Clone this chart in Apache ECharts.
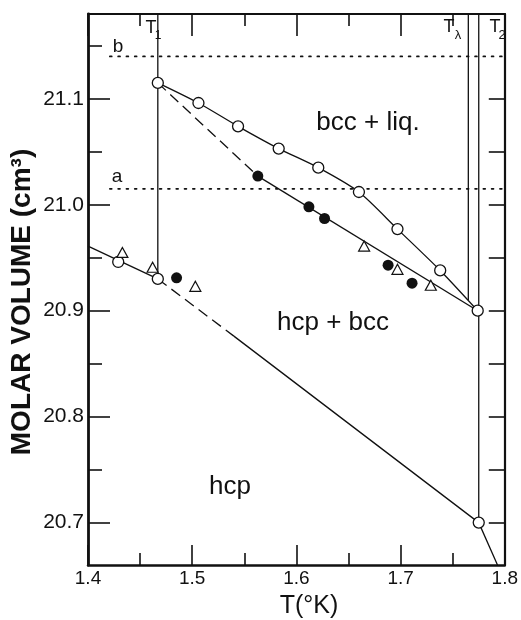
<!DOCTYPE html>
<html>
<head>
<meta charset="utf-8">
<script src="https://cdn.jsdelivr.net/npm/echarts@6/dist/echarts.min.js"></script>
<style>
  html, body { margin: 0; padding: 0; background: #fff; }
  #chart { width: 521px; height: 620px; }
</style>
</head>
<body>
<div id="chart"></div>
<script>
// axis ranges and tick values
const tMin = 1.4
const tMax = 1.8
const vMin = 20.66
const vMax = 21.18
const vMajor = [20.7, 20.8, 20.9, 21.0, 21.1]
const vMinorLeft = [20.75, 20.85, 20.95, 21.05, 21.15]
const vRight = [20.7, 20.75, 20.8, 20.85, 20.9, 20.95, 21.0, 21.05, 21.1]

// bcc + liquid boundary (open circles)
const liqT = [1.467, 1.506, 1.544, 1.583, 1.621, 1.660, 1.697, 1.738, 1.774]
const liqV = [21.115, 21.096, 21.074, 21.053, 21.035, 21.012, 20.977, 20.938, 20.900]

// hcp + bcc / bcc boundary
const bccDashT = [1.467, 1.563]
const bccDashV = [21.115, 21.027]
const bccSolidT = [1.563, 1.774]
const bccSolidV = [21.027, 20.900]

// filled circles
const fillT = [1.485, 1.563, 1.612, 1.627, 1.688, 1.711]
const fillV = [20.931, 21.027, 20.998, 20.987, 20.943, 20.926]

// open triangles
const triT = [1.433, 1.462, 1.503, 1.665, 1.697, 1.729]
const triV = [20.955, 20.941, 20.923, 20.961, 20.939, 20.924]

// hcp boundary
const hcpLeftT = [1.4, 1.467]
const hcpLeftV = [20.961, 20.930]
const hcpDashT = [1.467, 1.54]
const hcpDashV = [20.930, 20.876]
const hcpRightT = [1.54, 1.775, 1.793]
const hcpRightV = [20.876, 20.700, 20.66]
const hcpCircT = [1.429, 1.467, 1.775]
const hcpCircV = [20.946, 20.930, 20.700]

// vertical lines T1, T-lambda, T2
const vertT = [1.467, 1.765, 1.775]
const vertLow = [20.930, 20.910, 20.700]

// dotted reference levels a and b
const levelNames = ['a', 'b']
const levelV = [21.015, 21.14]
const levelT = [1.421, 1.8]

const font = 'Liberation Sans'
const ink = '#111'

function pairs(ts, vs) {
  return ts.map((t, i) => [t, vs[i]])
}

const chart = echarts.init(document.getElementById('chart'))

const lineBase = {
  type: 'line',
  showSymbol: false,
  symbol: 'none',
  silent: true,
  animation: false,
  lineStyle: { color: ink, width: 1.3 }
}

const series = []

vertT.forEach((t, i) => {
  series.push(Object.assign({}, lineBase, {
    z: 1,
    data: [[t, vMax], [t, vertLow[i]]]
  }))
})

levelNames.forEach((n, i) => {
  series.push(Object.assign({}, lineBase, {
    z: 1,
    lineStyle: { color: ink, width: 1.8, type: [1.8, 6.5], cap: 'round' },
    data: levelT.map(t => [t, levelV[i]])
  }))
})

series.push(Object.assign({}, lineBase, { z: 2, data: pairs(bccSolidT, bccSolidV) }))
series.push(Object.assign({}, lineBase, {
  z: 2,
  lineStyle: { color: ink, width: 1.3, type: [11, 6] },
  data: pairs(bccDashT, bccDashV)
}))
series.push(Object.assign({}, lineBase, { z: 2, data: pairs(hcpLeftT, hcpLeftV) }))
series.push(Object.assign({}, lineBase, {
  z: 2,
  lineStyle: { color: ink, width: 1.3, type: [11, 6] },
  data: pairs(hcpDashT, hcpDashV)
}))
series.push(Object.assign({}, lineBase, { z: 2, data: pairs(hcpRightT, hcpRightV) }))

series.push({
  type: 'line',
  z: 3,
  silent: true,
  animation: false,
  smooth: 0.25,
  symbol: 'circle',
  symbolSize: 11,
  showSymbol: true,
  lineStyle: { color: ink, width: 1.3 },
  itemStyle: { color: '#fff', borderColor: ink, borderWidth: 1.3 },
  data: pairs(liqT, liqV)
})

series.push({
  type: 'scatter',
  z: 4,
  silent: true,
  animation: false,
  symbol: 'circle',
  symbolSize: 11,
  itemStyle: { color: '#fff', borderColor: ink, borderWidth: 1.3, opacity: 1 },
  data: pairs(hcpCircT, hcpCircV)
})

series.push({
  type: 'scatter',
  z: 4,
  silent: true,
  animation: false,
  symbol: 'circle',
  symbolSize: 11,
  itemStyle: { color: ink, opacity: 1 },
  data: pairs(fillT, fillV)
})

series.push({
  type: 'scatter',
  z: 4,
  silent: true,
  animation: false,
  symbol: 'triangle',
  symbolSize: [11, 10],
  itemStyle: { color: '#fff', borderColor: ink, borderWidth: 1.2, opacity: 1 },
  data: pairs(triT, triV)
})

function txt(text, x, y, size, extra, weight) {
  return Object.assign({
    type: 'text',
    x: x,
    y: y,
    silent: true,
    style: {
      text: text,
      fill: ink,
      font: (weight || 'normal') + ' ' + size + 'px "' + font + '"',
      align: 'center',
      verticalAlign: 'middle'
    }
  }, extra || {})
}

chart.setOption({
  backgroundColor: '#fff',
  animation: false,
  grid: { left: 88, right: 10, top: 14, bottom: 55 },
  xAxis: [{
    type: 'value',
    position: 'bottom',
    min: tMin,
    max: tMax,
    interval: 0.1,
    axisLine: { show: true, onZero: false, lineStyle: { color: ink, width: 2.5 } },
    axisTick: { show: true, inside: true, length: 20, lineStyle: { color: ink, width: 1.6 } },
    minorTick: { show: true, splitNumber: 2, length: 12, lineStyle: { color: ink, width: 1.6 } },
    axisLabel: {
      color: ink, fontFamily: font, fontSize: 19, margin: 4,
      showMinLabel: true, showMaxLabel: true,
      formatter: v => v.toFixed(1)
    },
    splitLine: { show: false }
  }, {
    type: 'value',
    position: 'top',
    min: tMin,
    max: tMax,
    interval: 0.1,
    axisLine: { show: true, onZero: false, lineStyle: { color: ink, width: 2.2 } },
    axisTick: { show: true, inside: true, length: 22, lineStyle: { color: ink, width: 1.6 } },
    minorTick: { show: true, splitNumber: 2, length: 12, lineStyle: { color: ink, width: 1.6 } },
    axisLabel: { show: false },
    splitLine: { show: false }
  }],
  yAxis: [{
    type: 'value',
    position: 'left',
    min: vMin,
    max: vMax,
    axisLine: { show: true, onZero: false, lineStyle: { color: ink, width: 2.8 } },
    axisTick: { show: true, inside: true, length: 22, customValues: vMajor, lineStyle: { color: ink, width: 1.6 } },
    axisLabel: {
      color: ink, fontFamily: font, fontSize: 21, margin: 4,
      customValues: vMajor,
      formatter: v => v.toFixed(1)
    },
    splitLine: { show: false }
  }, {
    type: 'value',
    position: 'left',
    min: vMin,
    max: vMax,
    axisLine: { show: false },
    axisTick: { show: true, inside: true, length: 14, customValues: vMinorLeft, lineStyle: { color: ink, width: 1.6 } },
    axisLabel: { show: false },
    splitLine: { show: false }
  }, {
    type: 'value',
    position: 'right',
    min: vMin,
    max: vMax,
    axisLine: { show: true, onZero: false, lineStyle: { color: ink, width: 2.2 } },
    axisTick: { show: true, inside: true, length: 16, customValues: vRight, lineStyle: { color: ink, width: 1.6 } },
    axisLabel: { show: false },
    splitLine: { show: false }
  }],
  graphic: [
    txt('bcc + liq.', 368, 123, 26),
    txt('hcp + bcc', 333, 323, 26),
    txt('hcp', 230, 487, 26),
    txt('b', 118, 47, 19),
    txt('a', 117, 177, 19),
    txt('T', 151, 28, 18),
    txt('1', 158, 36, 12),
    txt('T', 449, 27, 18),
    txt('λ', 458, 35, 13),
    txt('T', 495, 27, 18),
    txt('2', 502, 35, 13),
    txt('T(°K)', 309, 606, 25),
    txt('MOLAR VOLUME (cm³)', 22, 302, 28, { rotation: Math.PI / 2 }, 'bold')
  ],
  series: series
})
</script>
</body>
</html>
